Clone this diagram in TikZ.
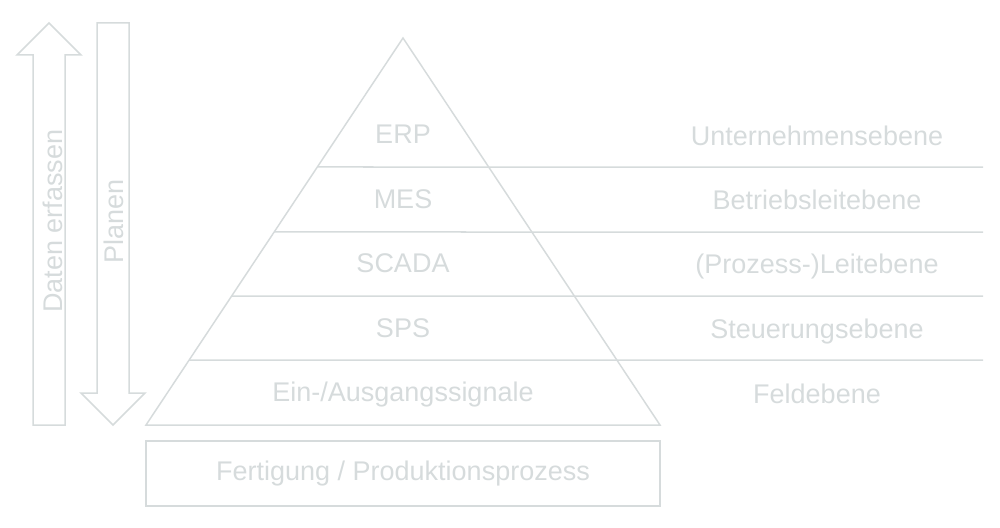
\documentclass[tikz,border=0pt]{standalone}
\usepackage{fontspec}
\setmainfont{Liberation Sans}
\usetikzlibrary{calc}
\begin{document}
\begin{tikzpicture}[x=1pt,y=-1pt,
  ln/.style={draw=pale,line width=1.5pt,line join=miter},
  lbl/.style={text=pale,font=\fontsize{27}{32}\selectfont,inner sep=0}]
\definecolor{pale}{HTML}{D6DBDC}
\useasboundingbox (0,0) rectangle (1000,527);
\coordinate (apex) at (403,38);
\coordinate (bl) at (146,425);
\coordinate (br) at (660,425);
\draw[ln] (apex) -- (br) -- (bl) -- cycle;
\foreach \y in {167,232,296,360}
  {\draw[ln] ($(apex)!{(\y-38)/387}!(bl)$) -- (983,\y);}
\foreach \lvl/\ebene/\yl/\yr [count=\i] in {ERP/Unternehmensebene/143/145,
  MES/Betriebsleitebene/208/209, SCADA/{(Prozess-)Leitebene}/272/273,
  SPS/Steuerungsebene/337/338, {Ein-/Ausgangssignale}/Feldebene/401/403}
  {\node [lbl,anchor=base] (sys\i) at (403,\yl) {\lvl};
   \node [lbl,anchor=base] (ebene\i) at (817,\yr) {\ebene};}
\node [ln,lbl,minimum width=514,minimum height=65] (prozess) at (403,473.5) {Fertigung / Produktionsprozess};
\draw[ln] (33,425) -- (33,55) -- (17,55) -- (49,23) -- (81,55) -- (65,55) -- (65,425) -- cycle;
\draw[ln] (97,23) -- (129,23) -- (129,393) -- (145,393) -- (113,425) -- (81,393) -- (97,393) -- cycle;
\node [lbl,rotate=90,anchor=base] (erfassen) at (62,221) {Daten erfassen};
\node [lbl,rotate=90,anchor=base] (planen) at (123,221) {Planen};
\end{tikzpicture}
\end{document}
